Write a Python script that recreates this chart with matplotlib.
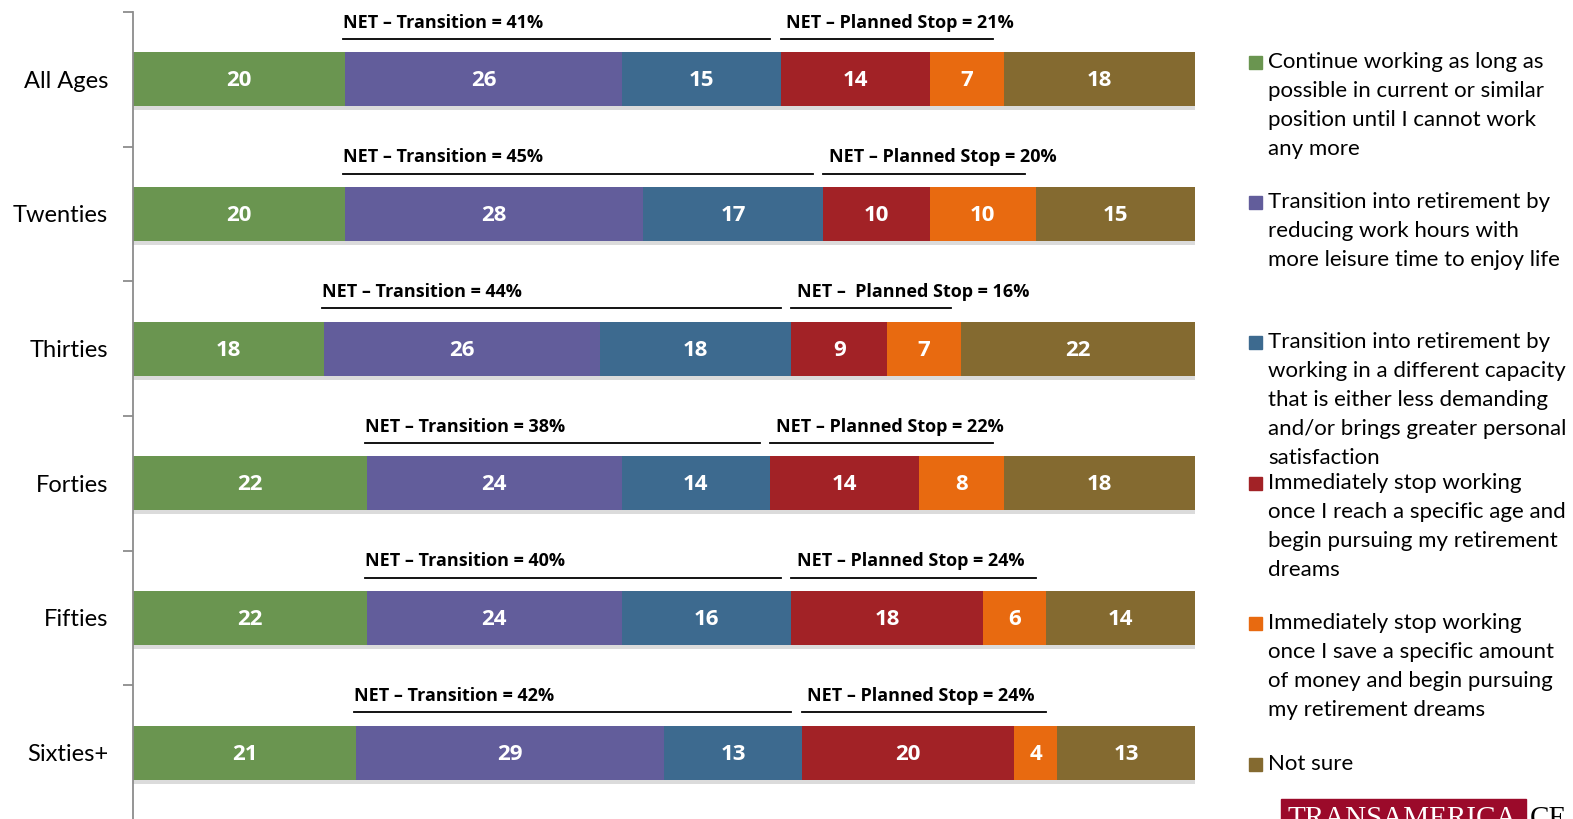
import numpy as np
import matplotlib
matplotlib.use("Agg")
from matplotlib import pyplot as plt
from matplotlib import patheffects as pe
from matplotlib.patches import Rectangle

plt.rcParams['font.family'] = ['Lato', 'DejaVu Sans']
BOLD = ['Open Sans', 'DejaVu Sans']

# 年龄组
groups = ["All Ages", "Twenties", "Thirties", "Forties", "Fifties", "Sixties+"]
# 各选项百分比
continue_work = [20, 20, 18, 22, 22, 21]
reduce_hours = [26, 28, 26, 24, 24, 29]
diff_capacity = [15, 17, 18, 14, 16, 13]
stop_age = [14, 10, 9, 14, 18, 20]
stop_money = [7, 10, 7, 8, 6, 4]
not_sure = [18, 15, 22, 18, 14, 13]

legend_labels = [
    "Continue working as long as\npossible in current or similar\nposition until I cannot work\nany more",
    "Transition into retirement by\nreducing work hours with\nmore leisure time to enjoy life",
    "Transition into retirement by\nworking in a different capacity\nthat is either less demanding\nand/or brings greater personal\nsatisfaction",
    "Immediately stop working\nonce I reach a specific age and\nbegin pursuing my retirement\ndreams",
    "Immediately stop working\nonce I save a specific amount\nof money and begin pursuing\nmy retirement dreams",
    "Not sure",
]
colors = ["#6A9550", "#625D9B", "#3D6A8F", "#A22226", "#E86A10", "#846A30"]

series = [continue_work, reduce_hours, diff_capacity, stop_age, stop_money, not_sure]

W, H = 1573, 819
fig = plt.figure(figsize=(W / 100, H / 100), dpi=100)
ax = fig.add_axes([133 / W, -1 / H, (1195 - 133) / W, 808 / H])

y = np.arange(len(groups))
left = np.zeros(len(groups))
shadow = [pe.SimplePatchShadow(offset=(0, -3), shadow_rgbFace="#999999", alpha=0.35), pe.Normal()]
for vals, c in zip(series, colors):
    vals = np.array(vals)
    bars = ax.barh(y, vals, left=left, height=0.4, color=c, edgecolor="none")
    for b in bars:
        b.set_path_effects(shadow)
    for yi, l, v in zip(y, left, vals):
        ax.text(l + v / 2, yi + 0.01, str(v), ha="center", va="center",
                color="white", fontsize=16, fontweight="bold", family=BOLD)
    left = left + vals

# NET 标注
cum = np.cumsum(np.array(series), axis=0)
for i in range(len(groups)):
    t_start = cum[0][i]
    t_end = cum[2][i]
    p_start = cum[2][i]
    p_end = cum[4][i]
    t_val = t_end - t_start
    p_val = p_end - p_start
    ax.plot([t_start - 0.2, t_end - 1], [i - 0.30, i - 0.30], color="black", lw=1.3, clip_on=False)
    ax.plot([p_start, p_end - 1], [i - 0.30, i - 0.30], color="black", lw=1.3, clip_on=False)
    ax.text(t_start - 0.2, i - 0.42, "NET \u2013 Transition = %d%%" % t_val,
            ha="left", va="center", fontsize=13, fontweight="bold", family=BOLD)
    p_txt = "NET \u2013  Planned Stop = %d%%" if groups[i] == "Thirties" else "NET \u2013 Planned Stop = %d%%"
    ax.text(p_start + 0.5, i - 0.42, p_txt % p_val,
            ha="left", va="center", fontsize=13, fontweight="bold", family=BOLD)

ax.set_xlim(0, 100)
ax.set_ylim(len(groups) - 0.5, -0.5)
for s in ["top", "right", "bottom"]:
    ax.spines[s].set_visible(False)
ax.spines["left"].set_color("#8C8C8C")
ax.spines["left"].set_linewidth(1.3)
ax.set_xticks([])
ax.set_yticks(np.arange(-0.5, len(groups), 1.0))
ax.set_yticklabels([])
ax.tick_params(axis="y", which="major", length=7, color="#8C8C8C", width=1.3)
ax.set_yticks(y, minor=True)
ax.set_yticklabels(groups, minor=True, fontsize=17)
ax.tick_params(axis="y", which="minor", length=0, pad=18)

# 图例
entry_y = [63, 203, 343, 484, 624, 765]
for lab, c, ey in zip(legend_labels, colors, entry_y):
    fig.patches.append(Rectangle((1249 / W, 1 - (ey + 6) / H), 13 / W, 13 / H,
                                 transform=fig.transFigure, color=c))
    fig.text(1268 / W, 1 - (ey - 11) / H, lab, ha="left", va="top", fontsize=16,
             linespacing=1.57)

# 徽标
fig.patches.append(Rectangle((1281 / W, 0), 245 / W, 20 / H, transform=fig.transFigure,
                             color="#9B0A2A"))
fig.text(1287 / W, 1 - 806 / H, "TRANSAMERICA", color="white", fontsize=21,
         family="Liberation Serif", va="top", ha="left")
fig.text(1530 / W, 1 - 806 / H, "CE", color="black", fontsize=21,
         family="Liberation Serif", va="top", ha="left")

fig.savefig("out.png", dpi=100)
